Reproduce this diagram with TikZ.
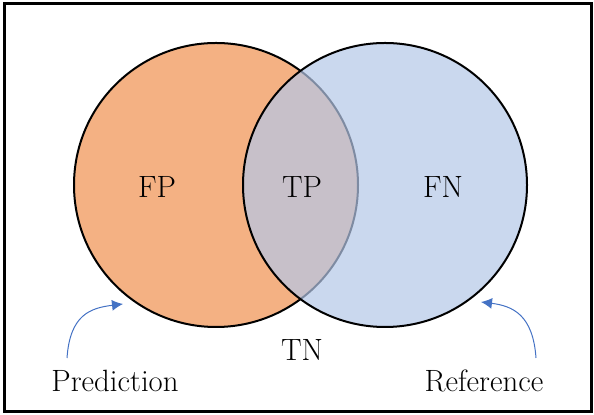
\documentclass[tikz,border=0pt]{standalone}
\usepackage{tikz}
\usetikzlibrary{arrows.meta}
\definecolor{predfill}{HTML}{F4B183}
\definecolor{reffill}{HTML}{B4C7E7}
\definecolor{arrowblue}{HTML}{4472C4}
\tikzset{
  setnode/.style = {circle, draw=black, line width=1pt, inner sep=0pt,
    minimum size=142pt},% ensemble, rayon 142px
  pred_n/.style = {setnode, fill=predfill},% prediction
  ref_n/.style = {setnode, fill=reffill, fill opacity=0.7},% reference
  lbl/.style = {font=\fontsize{15.4}{18}\selectfont, inner sep=0pt},
  pointer/.style = {-{Latex[length=5.5pt,width=5.5pt]}, arrowblue, line width=0.5pt}
}
\begin{document}
\begin{tikzpicture}[x=0.5pt,y=-0.5pt]
  \useasboundingbox (0,0) rectangle (594,415);
  \draw[line width=1.5pt] (4,3.5) rectangle (591,411.5);

  \node [pred_n] (pred) at (216,185) {};
  \node [ref_n] (ref) at (385,185) {};

  \node [lbl] (fp) at (157,187) {FP};
  \node [lbl] (tp) at (302,187) {TP};
  \node [lbl] (fn) at (443,187) {FN};
  \node [lbl] (tn) at (302,350) {TN};
  \node [lbl] (predlbl) at (115,381) {Prediction};
  \node [lbl] (reflbl) at (484,381) {Reference};

  \coordinate (pa) at (67,358);
  \coordinate (pb) at (123,304);
  \coordinate (ra) at (536,358);
  \coordinate (rb) at (481,302);
  \draw [pointer] (pa) .. controls (70,315) and (90,308) .. (pb);
  \draw [pointer] (ra) .. controls (533,315) and (513,306) .. (rb);
\end{tikzpicture}
\end{document}
